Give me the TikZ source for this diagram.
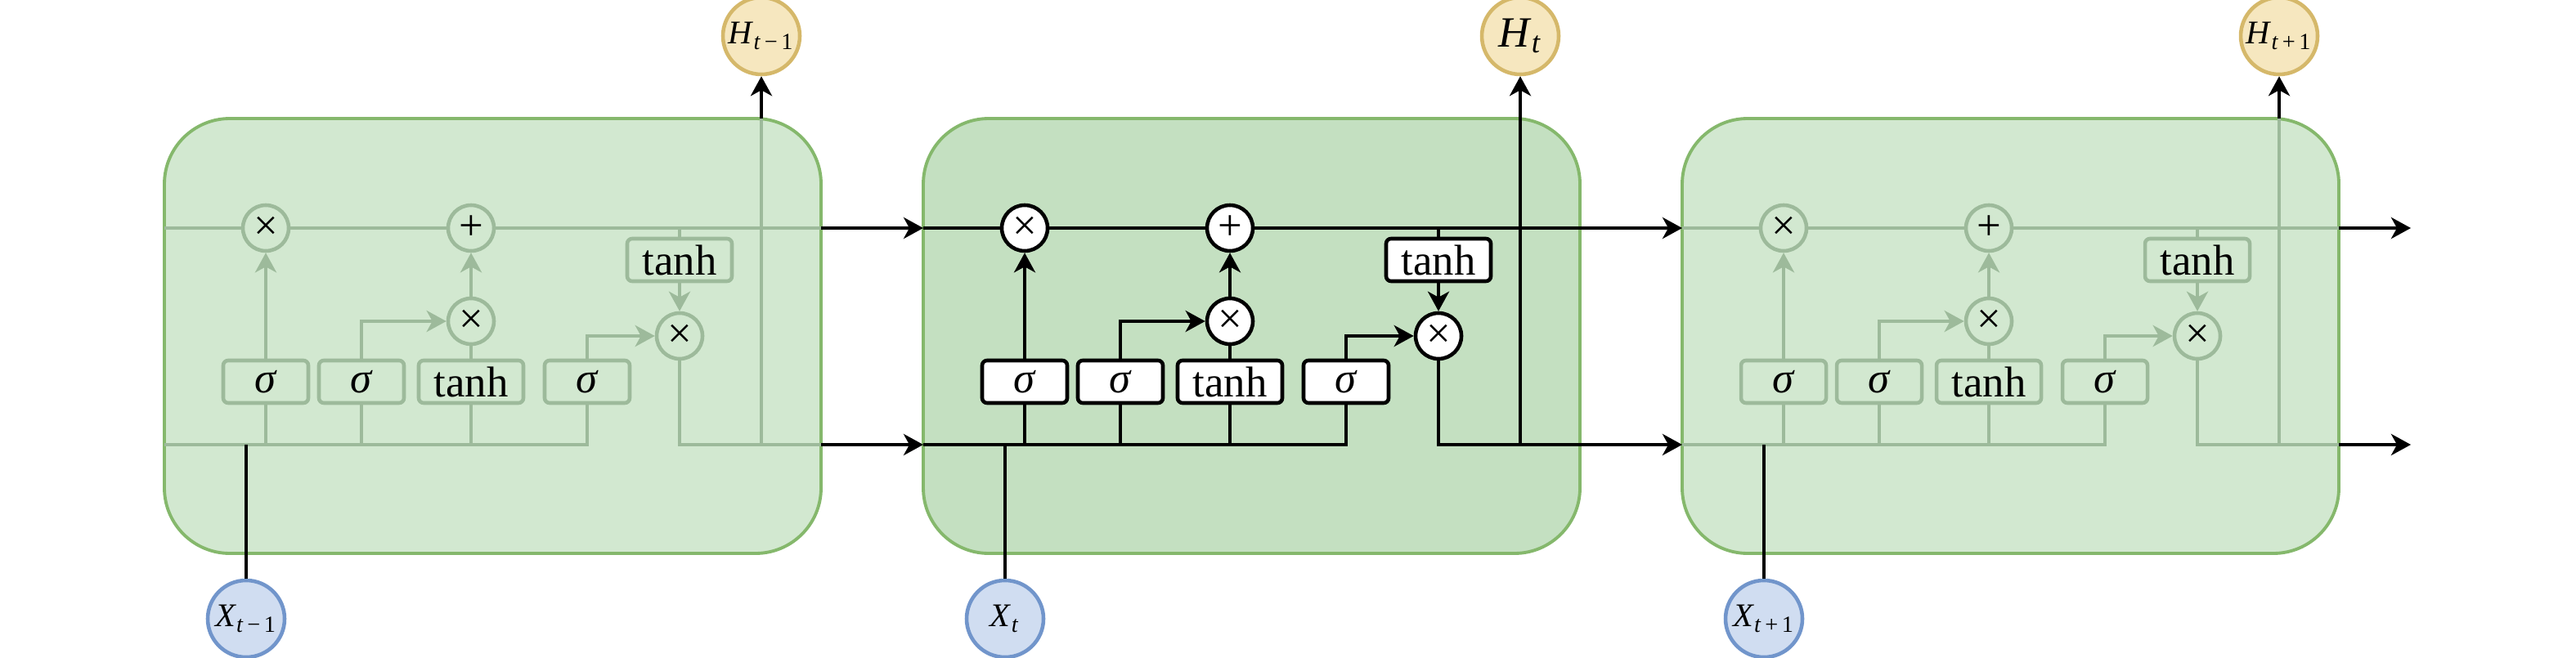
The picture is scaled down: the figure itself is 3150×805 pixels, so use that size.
\documentclass[tikz,border=0pt]{standalone}
\usepackage{fontspec}
\setmainfont{Liberation Serif}
\usetikzlibrary{arrows.meta}

\definecolor{cellfill}{HTML}{D2E8D0}
\definecolor{cellmid}{HTML}{C4E0C1}
\definecolor{celledge}{HTML}{85B86C}
\definecolor{fadeln}{HTML}{9DBA9B}
\definecolor{xfill}{HTML}{D0DDF1}
\definecolor{xedge}{HTML}{7195CB}
\definecolor{hfill}{HTML}{F6E7BF}
\definecolor{hedge}{HTML}{D5B86A}

\tikzset{
  conn/.style={line width=1.3pt},
  tip/.style={-{Stealth[length=2.4mm,width=2.6mm,inset=0.7mm]}},
  gate/.style={draw, rounded corners=0.6mm, line width=1.3pt, minimum height=5.2mm,
               minimum width=10.4mm, inner sep=0pt, font=\fontsize{15}{15}\selectfont},
  wgate/.style={gate, minimum width=12.8mm},
  op/.style={circle, draw, line width=1.3pt, minimum size=5.6mm, inner sep=0pt,
             font=\fontsize{15}{15}\selectfont},
  io/.style={circle, line width=1.3pt, minimum size=9.4mm, inner sep=0pt},
  cell/.style={draw=celledge, line width=1.1pt, rounded corners=8mm},
}

\begin{document}
\begin{tikzpicture}[x=0.1mm, y=-0.1mm]
\useasboundingbox (0,0) rectangle (3150,805);

% three LSTM cells, only the middle one in full colour
\foreach \cl/\x/\bg/\lc/\nf/\s/\hs in {
    a/201/cellfill/fadeln/cellfill/{\textit{t}\,−\,1}/11.5,
    b/1129/cellmid/black/white/{\textit{t}}/15,
    c/2057/cellfill/fadeln/cellfill/{\textit{t}\,+\,1}/11.5}{
\begin{scope}[shift={(\x,0)}]
  \draw[cell, fill=\bg] (0,145) rectangle (803,677);
  % gates
  \node[gate, draw=\lc, fill=\nf] (\cl-gf) at (124,467) {\textit{σ}};
  \node[gate, draw=\lc, fill=\nf] (\cl-gi) at (241,467) {\textit{σ}};
  \node[wgate, draw=\lc, fill=\nf] (\cl-gc) at (375,467) {tanh};
  \node[gate, draw=\lc, fill=\nf] (\cl-go) at (517,467) {\textit{σ}};
  \node[wgate, draw=\lc, fill=\nf] (\cl-ct) at (630,318) {tanh};
  % pointwise ops
  \node[op, draw=\lc, fill=\nf] (\cl-fm) at (124,279) {×};
  \node[op, draw=\lc, fill=\nf] (\cl-ad) at (375,279) {+};
  \node[op, draw=\lc, fill=\nf] (\cl-im) at (375,393) {×};
  \node[op, draw=\lc, fill=\nf] (\cl-om) at (630,411) {×};
  % input / output
  \node[io, draw=xedge, fill=xfill, font=\fontsize{11.5}{12}\selectfont] (\cl-x) at (100,757)
    {\textit{X}\textsubscript{\s}};
  \node[io, draw=hedge, fill=hfill, font=\fontsize{\hs}{\hs}\selectfont] (\cl-h) at (730,44)
    {\textit{H}\textsubscript{\s}};
  \coordinate (\cl-cin) at (0,279);
  \coordinate (\cl-cout) at (803,279);
  \coordinate (\cl-hin) at (0,544);
  \coordinate (\cl-hout) at (803,544);
  \coordinate (\cl-tj) at (630,279);
  \coordinate (\cl-xj) at (100,544);
  \coordinate (\cl-hj) at (730,544);
  \coordinate (\cl-hb) at (730,145);
  % cell state
  \draw[conn, draw=\lc] (\cl-cin) -- (\cl-fm.west) (\cl-fm.east) -- (\cl-ad.west)
    (\cl-ad.east) -- (\cl-cout);
  \draw[conn, draw=\lc] (\cl-tj) -- (\cl-ct.north);
  \draw[conn, draw=\lc, tip] (\cl-ct.south) -- (\cl-om.north);
  % gates to ops
  \draw[conn, draw=\lc, tip] (\cl-gf.north) -- (\cl-fm.south);
  \draw[conn, draw=\lc, tip] (\cl-gi.north) |- (\cl-im.west);
  \draw[conn, draw=\lc] (\cl-gc.north) -- (\cl-im.south);
  \draw[conn, draw=\lc, tip] (\cl-im.north) -- (\cl-ad.south);
  \draw[conn, draw=\lc, tip] (\cl-go.north) |- (\cl-om.west);
  % hidden state
  \draw[conn, draw=\lc] (\cl-hin) -| (\cl-go.south);
  \draw[conn, draw=\lc] (\cl-gf.south) -- (\cl-gf.south |- \cl-hin);
  \draw[conn, draw=\lc] (\cl-gi.south) -- (\cl-gi.south |- \cl-hin);
  \draw[conn, draw=\lc] (\cl-gc.south) -- (\cl-gc.south |- \cl-hin);
  \draw[conn, draw=\lc] (\cl-om.south) |- (\cl-hout);
  \draw[conn, draw=\lc] (\cl-hj) -- (\cl-hb);
  \draw[conn, tip] (\cl-hb) -- (\cl-h.south);
  \draw[conn] (\cl-x.north) -- (\cl-xj);
\end{scope}
}

\coordinate (endc) at (2948,279);
\coordinate (endh) at (2948,544);
\draw[conn, tip] (a-cout) -- (b-cin);
\draw[conn, tip] (a-hout) -- (b-hin);
\draw[conn, tip] (b-cout) -- (c-cin);
\draw[conn, tip] (b-hout) -- (c-hin);
\draw[conn, tip] (c-cout) -- (endc);
\draw[conn, tip] (c-hout) -- (endh);
\end{tikzpicture}
\end{document}
